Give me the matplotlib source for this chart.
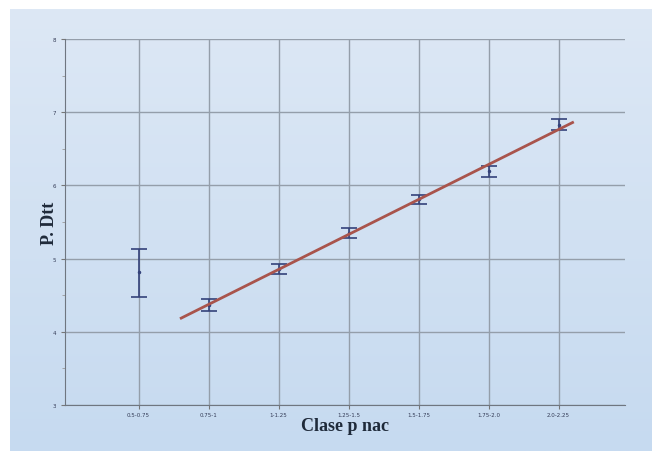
import numpy as np
import matplotlib.pyplot as plt
from matplotlib.colors import LinearSegmentedColormap

# Datos
clases = ["0.5-0.75", "0.75-1", "1-1.25", "1.25-1.5", "1.5-1.75", "1.75-2.0", "2.0-2.25"]
media = [4.82, 4.37, 4.86, 5.35, 5.81, 6.20, 6.82]
lim_sup = [5.13, 4.45, 4.93, 5.42, 5.87, 6.27, 6.91]
lim_inf = [4.48, 4.29, 4.79, 5.28, 5.75, 6.11, 6.76]
recta_desde = 0.61
recta_hasta = 6.2

fig = plt.figure(figsize=(6.52, 4.52), dpi=100, facecolor="white")

# fondo degradado azul claro
bg = fig.add_axes([10 / 652, 0, 1 - 10 / 652, 1 - 10 / 452], zorder=-5)
cmap = LinearSegmentedColormap.from_list("fondo", ["#c6daf0", "#dde8f5"])
bg.imshow(np.linspace(0, 1, 256).reshape(-1, 1), cmap=cmap, aspect="auto",
          origin="lower", extent=[0, 1, 0, 1])
bg.axis("off")

ax = fig.add_axes([0.0997, 0.1018, 0.859, 0.8097])
ax.set_facecolor("none")

x = np.arange(len(clases))
media = np.array(media)
err = [media - np.array(lim_inf), np.array(lim_sup) - media]

# barras de error
ax.errorbar(x, media, yerr=err, fmt="o", markersize=1.5, color="#34427a",
            ecolor="#34427a", elinewidth=1.2, capsize=6, capthick=1.2, zorder=3)

# recta ajustada (sin la primera clase)
p = np.polyfit(x[1:], media[1:], 1)
xr = np.array([recta_desde, recta_hasta])
ax.plot(xr, np.polyval(p, xr), color="#a9544c", lw=2.0, zorder=4)

ax.set_xlim(-1.05, 6.95)
ax.set_ylim(3, 8)
ax.set_xticks(x)
ax.set_xticklabels(clases, fontsize=4, color="#333a55")
ax.set_yticks(range(3, 9))
ax.set_yticks(np.arange(3.5, 8, 1), minor=True)
ax.tick_params(axis="y", labelsize=4, labelcolor="#333a55", length=3, color="#777")
ax.tick_params(axis="y", which="minor", length=2, color="#999")
ax.tick_params(axis="x", length=3, color="#777", pad=2)

ax.grid(True, color="#949eaa", lw=1.0)
ax.set_axisbelow(True)
for s in ["top", "right"]:
    ax.spines[s].set_visible(False)
ax.spines["left"].set_color("#6f7680")
ax.spines["bottom"].set_color("#6f7680")

ax.set_xlabel("Clase p nac", fontsize=13, fontweight="bold", family="Liberation Serif",
              color="#1f2a3a", labelpad=0)
ax.set_ylabel("P. Dtt", fontsize=13, fontweight="bold", family="Liberation Serif",
              color="#1f2a3a", labelpad=-4)

fig.savefig("out.png", dpi=100, facecolor=fig.get_facecolor())
